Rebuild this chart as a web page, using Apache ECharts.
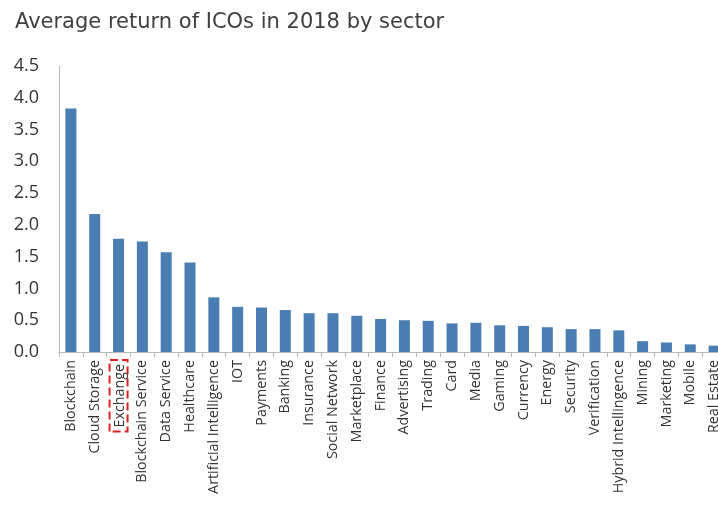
<!DOCTYPE html>
<html><head><meta charset="utf-8">
<script src="https://cdn.jsdelivr.net/npm/echarts@6/dist/echarts.min.js"></script>
<style>html,body{margin:0;padding:0;background:#fff;overflow:hidden;width:718px;height:510px}#c{width:726px;height:510px}</style>
</head><body><div id="c"></div>
<script>
const titleText = 'Average return of ICOs in 2018 by sector';
const sectors = ['Blockchain','Cloud Storage','Exchange','Blockchain Service','Data Service','Healthcare','Artificial Intelligence','IOT','Payments','Banking','Insurance','Social Network','Marketplace','Finance','Advertising','Trading','Card','Media','Gaming','Currency','Energy','Security','Verification','Hybrid Intellingence','Mining','Marketing','Mobile','Real Estate'];
const returns = [3.83,2.17,1.78,1.74,1.57,1.41,0.86,0.71,0.70,0.66,0.61,0.61,0.57,0.52,0.50,0.49,0.45,0.46,0.42,0.41,0.39,0.36,0.36,0.34,0.17,0.15,0.12,0.10];
const highlighted = 'Exchange';
const yTicks = ['0.0','0.5','1.0','1.5','2.0','2.5','3.0','3.5','4.0','4.5'];

const chart = echarts.init(document.getElementById('c'));
chart.setOption({
  animation: false,
  backgroundColor: '#fff',
  title: {
    text: titleText, left: 10, top: 7,
    textStyle: {fontFamily: 'DejaVu Sans', fontWeight: 'normal', fontSize: 21, color: '#404040'}
  },
  grid: {left: 59, right: 0, top: 66, bottom: 158, containLabel: false},
  xAxis: {
    type: 'category', data: sectors,
    axisLine: {lineStyle: {color: '#b8b8b8', width: 1}},
    axisTick: {show: true, length: 5, lineStyle: {color: '#b8b8b8'}},
    axisLabel: {
      rotate: 90, interval: 0, margin: 8,
      fontFamily: 'Open Sans', fontSize: 14.3, color: '#333',
      formatter: v => v === highlighted ? '{hl|' + v + '}' : v,
      rich: {hl: {fontFamily: 'Open Sans', fontSize: 14.3, color: '#333', borderColor: '#e02020', borderWidth: 2, borderType: 'dashed', padding: [3, 4, 1, 4]}}
    }
  },
  yAxis: {
    type: 'value', min: 0, max: 4.5, interval: 0.5,
    axisLine: {show: true, lineStyle: {color: '#b8b8b8'}},
    axisTick: {show: false},
    splitLine: {show: false},
    axisLabel: {
      margin: 20, fontFamily: 'Open Sans', fontSize: 18, color: '#333',
      formatter: (v) => yTicks[Math.round(v / 0.5)]
    }
  },
  series: [{
    type: 'bar', data: returns, barWidth: 11,
    itemStyle: {color: '#4a7db2'}
  }]
});
</script></body></html>
